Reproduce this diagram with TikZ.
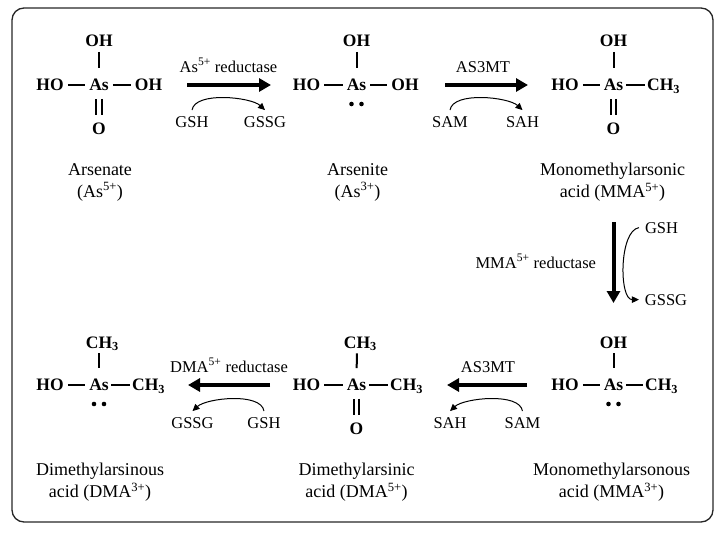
\documentclass[tikz,border=0pt]{standalone}
\usepackage{fontspec}
\setmainfont{Liberation Serif}
\usetikzlibrary{calc,arrows.meta}
\def\lonepair(#1){\fill ($(#1)+(-5,19)$) circle (2.3pt); \fill ($(#1)+(5,19)$) circle (2.3pt);}
\tikzset{
	atom/.style={font=\fontsize{17.5}{20}\selectfont\bfseries, inner sep=0pt, text height=11.5pt, text depth=0pt},
	bond/.style={line width=2pt, shorten <=4pt, shorten >=4pt},
	chbond/.style={bond, shorten <=2.5pt, shorten >=2.5pt},
	topbond/.style={bond, shorten <=5pt, shorten >=11pt},
	dblbond/.style={bond, double, double distance=3.6pt, shorten <=8pt, shorten >=8pt},
	lbl/.style={font=\fontsize{18}{22}\selectfont, align=center, inner sep=0pt},
	sm/.style={font=\fontsize{16.5}{20}\selectfont, inner sep=2pt, outer sep=4pt, anchor=base},
	rxn/.style={line width=4pt, -{Triangle[length=12pt,width=13pt]}},
	cofac/.style={line width=1pt, -{Triangle[length=7pt,width=6.5pt]}},
	frame/.style={line width=1.3pt, rounded corners=12pt, black!85}
}
\begin{document}
\begin{tikzpicture}[x=1pt, y=-1pt]
				%%%%% START %%%%%
				\useasboundingbox (0,0) rectangle (723,533);
				\draw[frame] (12,8) rectangle (713,522);
				
				% arsenate
				\node[atom] (ho1) at (50,85) {HO};
				\node[atom] (as1) at (99,85) {As};
				\node[atom] (oh1r) at (148.5,85) {OH};
				\node[atom] (oh1t) at (99,41) {OH};
				\node[atom] (o1) at (99,129) {O};
				\draw[bond] (ho1) -- (as1);
				\draw[bond] (as1) -- (oh1r);
				\draw[topbond] (oh1t) -- (as1);
				\draw[dblbond] (as1) -- (o1);
				\node[lbl] (name1) at (100,182) {Arsenate\\(As\textsuperscript{5+})};
				
				% arsenite
				\node[atom] (ho2) at (306.5,85) {HO};
				\node[atom] (as2) at (356.5,85) {As};
				\node[atom] (oh2r) at (405,85) {OH};
				\node[atom] (oh2t) at (356.5,41) {OH};
				\draw[bond] (ho2) -- (as2);
				\draw[bond] (as2) -- (oh2r);
				\draw[topbond] (oh2t) -- (as2);
				\lonepair(as2)
				\node[lbl] (name2) at (357.5,182) {Arsenite\\(As\textsuperscript{3+})};
				
				% MMA5+
				\node[atom] (ho3) at (565,85) {HO};
				\node[atom] (as3) at (613.5,85) {As};
				\node[atom, anchor=west] (ch3r) at (647,85) {CH\textsubscript{3}};
				\node[atom] (oh3t) at (613.5,41) {OH};
				\node[atom] (o3) at (613.5,129) {O};
				\draw[bond] (ho3) -- (as3);
				\draw[chbond] (as3) -- (ch3r);
				\draw[topbond] (oh3t) -- (as3);
				\draw[dblbond] (as3) -- (o3);
				\node[lbl] (name3) at (612.5,182) {Monomethylarsonic\\acid (MMA\textsuperscript{5+})};
				
				% MMA3+
				\node[atom] (ho4) at (565,385) {HO};
				\node[atom] (as4) at (613.5,385) {As};
				\node[atom, anchor=west] (ch4r) at (645,385) {CH\textsubscript{3}};
				\node[atom] (oh4t) at (613.5,342.5) {OH};
				\draw[bond] (ho4) -- (as4);
				\draw[chbond] (as4) -- (ch4r);
				\draw[topbond] (oh4t) -- (as4);
				\lonepair(as4)
				\node[lbl] (name4) at (611.5,482) {Monomethylarsonous\\acid (MMA\textsuperscript{3+})};
				
				% DMA5+
				\node[atom] (ho5) at (306.5,385) {HO};
				\node[atom] (as5) at (356.5,385) {As};
				\node[atom, anchor=west] (ch5r) at (390,385) {CH\textsubscript{3}};
				\node[atom] (ch5t) at (357,342.5) {CH\rlap{\textsubscript{3}}};
				\node[atom] (o5) at (356.5,429) {O};
				\draw[bond] (ho5) -- (as5);
				\draw[chbond] (as5) -- (ch5r);
				\draw[topbond] (ch5t) -- (as5);
				\draw[dblbond] (as5) -- (o5);
				\node[lbl] (name5) at (356.5,482) {Dimethylarsinic\\acid (DMA\textsuperscript{5+})};
				
				% DMA3+
				\node[atom] (ho6) at (50,385) {HO};
				\node[atom] (as6) at (99,385) {As};
				\node[atom, anchor=west] (ch6r) at (132,385) {CH\textsubscript{3}};
				\node[atom] (ch6t) at (99,342.5) {CH\rlap{\textsubscript{3}}};
				\draw[bond] (ho6) -- (as6);
				\draw[chbond] (as6) -- (ch6r);
				\draw[topbond] (ch6t) -- (as6);
				\lonepair(as6)
				\node[lbl] (name6) at (100,482) {Dimethylarsinous\\acid (DMA\textsuperscript{3+})};
				
				% reactions
				\coordinate (r1a) at (187,85);
				\coordinate (r1b) at (271,85);
				\draw[rxn] (r1a) -- (r1b);
				\node[sm] (lab1) at (228.5,72) {As\textsuperscript{5+} reductase};
				\node[sm] (gsh1) at (192,127) {GSH};
				\node[sm] (gssg1) at (265,127) {GSSG};
				\draw[cofac] (gsh1.north) .. controls +(3,-19) and +(-14,-13) .. (gssg1.north);
				
				\coordinate (r2a) at (445,85);
				\coordinate (r2b) at (528,85);
				\draw[rxn] (r2a) -- (r2b);
				\node[sm] (lab2) at (483,72) {AS3MT};
				\node[sm] (sam2) at (450,127) {SAM};
				\node[sm] (sah2) at (522.5,127) {SAH};
				\draw[cofac] (sam2.north) .. controls +(3,-19) and +(-14,-13) .. (sah2.north);
				
				\coordinate (r3a) at (613.5,222);
				\coordinate (r3b) at (613.5,303);
				\draw[rxn] (r3a) -- (r3b);
				\node[sm, anchor=base east] (lab3) at (602,268) {MMA\textsuperscript{5+} reductase};
				\node[sm] (gsh3) at (661.5,233) {GSH};
				\node[sm] (gssg3) at (666,305) {GSSG};
				\draw[cofac] (gsh3.west) .. controls +(-20,3) and +(-20,0) .. (gssg3.west);
				
				\coordinate (r4a) at (527,385);
				\coordinate (r4b) at (447,385);
				\draw[rxn] (r4a) -- (r4b);
				\node[sm] (lab4) at (488,372) {AS3MT};
				\node[sm] (sam4) at (522.5,428) {SAM};
				\node[sm] (sah4) at (450,428) {SAH};
				\draw[cofac] (sam4.north) .. controls +(-3,-19) and +(14,-13) .. (sah4.north);
				
				\coordinate (r5a) at (270,385);
				\coordinate (r5b) at (188,385);
				\draw[rxn] (r5a) -- (r5b);
				\node[sm] (lab5) at (229,372) {DMA\textsuperscript{5+} reductase};
				\node[sm] (gsh5) at (264,428) {GSH};
				\node[sm] (gssg5) at (192.5,428) {GSSG};
				\draw[cofac] (gsh5.north) .. controls +(-3,-19) and +(14,-13) .. (gssg5.north);
				%%%%% END %%%%%
\end{tikzpicture}
\end{document}
